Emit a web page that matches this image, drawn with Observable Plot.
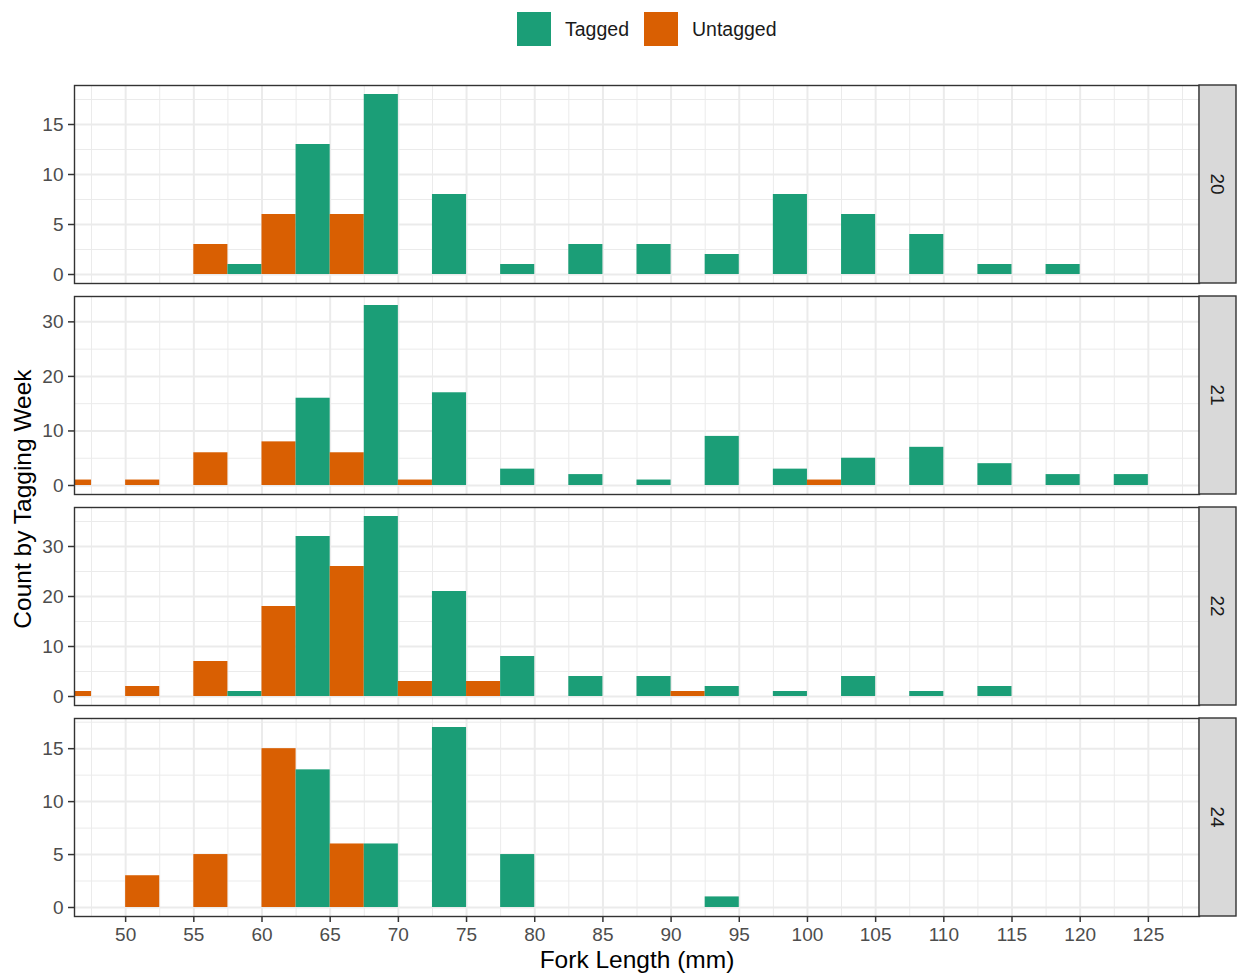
<!DOCTYPE html>
<html><head><meta charset="utf-8">
<script src="https://cdn.jsdelivr.net/npm/d3@7"></script>
<script src="https://cdn.jsdelivr.net/npm/@observablehq/plot@0.6"></script>
<style>
body{margin:0;background:#fff;}
#root{position:relative;width:1238px;height:975px;font-family:"Liberation Sans",Arial,sans-serif;overflow:hidden;background:#fff;}
.panel{position:absolute;left:0;}
#legend{position:absolute;left:517px;top:12px;}
#legend .lg-swatches{font-size:19.5px !important;font-family:"Liberation Sans",Arial,sans-serif !important;color:#1A1A1A;margin:0 !important;display:flex;align-items:center;}
#legend .lg-swatch{margin-right:15px !important;}
#legend .lg-swatch > svg{margin-right:14px !important;}
#ytitle{position:absolute;left:23px;top:499px;transform:translate(-50%,-50%) rotate(-90deg);font-size:24.5px;color:#000;white-space:nowrap;}
#xtitle{position:absolute;left:637px;top:960px;transform:translate(-50%,-50%);font-size:24.5px;color:#000;white-space:nowrap;}
</style></head>
<body><div id="root"><div id="legend"></div><div id="ytitle">Count by Tagging Week</div><div id="xtitle">Fork Length (mm)</div></div>
<script>
// ---- data ----
const weeks = ["20", "21", "22", "24"];
const statuses = ["Tagged", "Untagged"];
const statusColors = ["#1B9E77", "#D95F02"];
const binCenters = [45, 50, 55, 60, 65, 70, 75, 80, 85, 90, 95, 100, 105, 110, 115, 120, 125];
const binWidth = 5;
const tagged20   = [0, 0, 0, 1, 13, 18, 8, 1, 3, 3, 2, 8, 6, 4, 1, 1, 0];
const untagged20 = [0, 0, 3, 6, 6, 0, 0, 0, 0, 0, 0, 0, 0, 0, 0, 0, 0];
const tagged21   = [0, 0, 0, 0, 16, 33, 17, 3, 2, 1, 9, 3, 5, 7, 4, 2, 2];
const untagged21 = [1, 1, 6, 8, 6, 1, 0, 0, 0, 0, 0, 1, 0, 0, 0, 0, 0];
const tagged22   = [0, 0, 0, 1, 32, 36, 21, 8, 4, 4, 2, 1, 4, 1, 2, 0, 0];
const untagged22 = [1, 2, 7, 18, 26, 3, 3, 0, 0, 1, 0, 0, 0, 0, 0, 0, 0];
const tagged24   = [0, 0, 0, 0, 13, 6, 17, 5, 0, 0, 1, 0, 0, 0, 0, 0, 0];
const untagged24 = [0, 3, 5, 15, 6, 0, 0, 0, 0, 0, 0, 0, 0, 0, 0, 0, 0];
const xTicks = [50, 55, 60, 65, 70, 75, 80, 85, 90, 95, 100, 105, 110, 115, 120, 125];
const xMinor = [47.5, 52.5, 57.5, 62.5, 67.5, 72.5, 77.5, 82.5, 87.5, 92.5, 97.5, 102.5, 107.5, 112.5, 117.5, 122.5, 127.5];
const xLimits = [50, 125];
const yTicks20 = [0, 5, 10, 15];
const yTicks21 = [0, 10, 20, 30];
const yTicks22 = [0, 10, 20, 30];
const yTicks24 = [0, 5, 10, 15];
const yMinor20 = [2.5, 7.5, 12.5, 17.5];
const yMinor21 = [5, 15, 25, 35];
const yMinor22 = [5, 15, 25, 35];
const yMinor24 = [2.5, 7.5, 12.5, 17.5];

const taggedByWeek = [tagged20, tagged21, tagged22, tagged24];
const untaggedByWeek = [untagged20, untagged21, untagged22, untagged24];
const yTicksByWeek = [yTicks20, yTicks21, yTicks22, yTicks24];
const yMinorByWeek = [yMinor20, yMinor21, yMinor22, yMinor24];

const FONT = '"Liberation Sans", Arial, sans-serif';
const root = document.getElementById("root");

// legend
const leg = Plot.legend({
  color: {type: "ordinal", domain: statuses, range: statusColors},
  legend: "swatches", swatchSize: 34, className: "lg"
});
document.getElementById("legend").appendChild(leg);

const xr = xLimits[1] - xLimits[0];
const xDomain = [xLimits[0] - 0.05 * xr, xLimits[1] + 0.05 * xr];

const panelTop = 80, panelStep = 211;

weeks.forEach((wk, i) => {
  const rows = [];
  binCenters.forEach((b, j) => {
    const t = taggedByWeek[i][j], u = untaggedByWeek[i][j];
    if (t > 0) rows.push({bin: b, status: "Tagged", count: t});
    if (u > 0) rows.push({bin: b, status: "Untagged", count: u});
  });
  const max = d3.max(rows, d => d.count);
  const yDomain = [-0.05 * max, max * 1.05];
  const last = i === weeks.length - 1;
  const inY = v => v >= yDomain[0] && v <= yDomain[1];
  const plot = Plot.plot({
    width: 1238,
    height: last ? 262 : 211,
    marginLeft: 74, marginRight: 39, marginTop: 5, marginBottom: last ? 59 : 8,
    x: {domain: xDomain, axis: null},
    y: {domain: yDomain, axis: null},
    color: {domain: statuses, range: statusColors},
    style: {fontFamily: FONT, fontSize: "19px", background: "transparent", overflow: "visible"},
    marks: [
      Plot.gridX(xMinor, {stroke: "#EBEBEB", strokeOpacity: 1, strokeWidth: 1}),
      Plot.gridY(yMinorByWeek[i].filter(inY), {stroke: "#EBEBEB", strokeOpacity: 1, strokeWidth: 1}),
      Plot.gridX(xTicks, {stroke: "#EBEBEB", strokeOpacity: 1, strokeWidth: 2}),
      Plot.gridY(yTicksByWeek[i], {stroke: "#EBEBEB", strokeOpacity: 1, strokeWidth: 2}),
      Plot.rectY(rows, {
        x1: d => d.status === "Tagged" ? d.bin - binWidth / 2 : d.bin,
        x2: d => d.status === "Tagged" ? d.bin : d.bin + binWidth / 2,
        y1: 0, y2: "count", fill: "status", clip: true
      }),
      Plot.frame({stroke: "#333333", strokeWidth: 1.4}),
      Plot.axisY(yTicksByWeek[i], {tickSize: 6, tickPadding: 5, stroke: "#333333", strokeWidth: 1.5, fill: "#4D4D4D", fontSize: 19, label: null}),
      ...(last ? [Plot.axisX(xTicks, {tickSize: 6, tickPadding: 5, stroke: "#333333", strokeWidth: 1.5, fill: "#4D4D4D", fontSize: 19, label: null})] : [])
    ]
  });
  // facet strip on the right
  const xs = plot.scale("x").range, ys = plot.scale("y").range;
  const svg = d3.select(plot);
  const sx = xs[1], sw = 37;
  const top = Math.min(ys[0], ys[1]), bot = Math.max(ys[0], ys[1]);
  const g = svg.append("g");
  g.append("rect").attr("x", sx).attr("y", top).attr("width", sw).attr("height", bot - top)
    .attr("fill", "#D9D9D9").attr("stroke", "#333333").attr("stroke-width", 1.4);
  g.append("text").attr("transform", `translate(${sx + sw / 2},${(top + bot) / 2}) rotate(90)`)
    .attr("text-anchor", "middle").attr("dy", "0.35em").attr("fill", "#1A1A1A")
    .attr("font-size", 19).attr("font-family", FONT).text(wk);
  const wrap = document.createElement("div");
  wrap.className = "panel";
  wrap.style.top = (panelTop + i * panelStep) + "px";
  wrap.appendChild(plot);
  root.appendChild(wrap);
});
</script>
</body></html>
